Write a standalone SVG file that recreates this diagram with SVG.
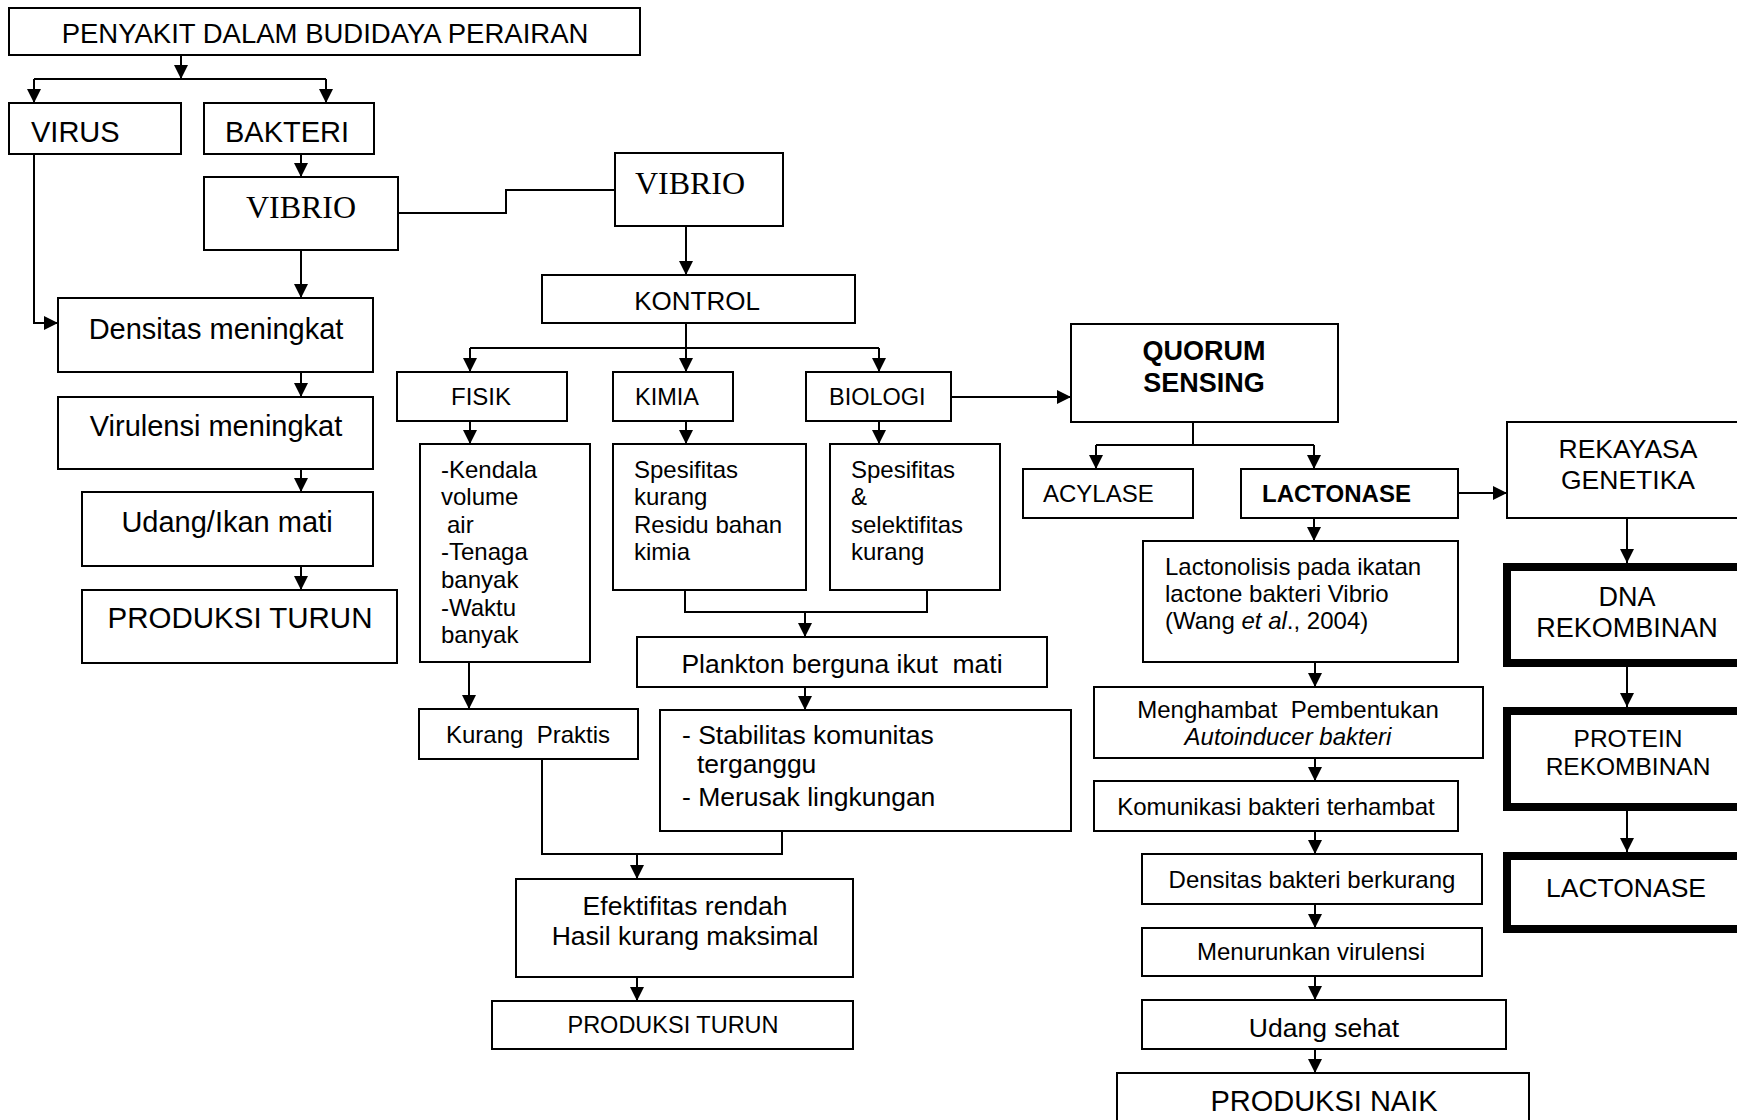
<svg xmlns="http://www.w3.org/2000/svg" width="1737" height="1120" viewBox="0 0 1737 1120">
<style>
.box{fill:#fff;stroke:#000;stroke-width:2}
.thick{fill:#fff;stroke:#000;stroke-width:8}
.conn{fill:none;stroke:#000;stroke-width:2}
.arr{fill:none;stroke:#000;stroke-width:2;marker-end:url(#ah)}
text{font-family:"Liberation Sans",Arial,sans-serif;fill:#000}
.serif{font-family:"Liberation Serif","Times New Roman",serif}
.m{text-anchor:middle}
.b{font-weight:bold}
.i{font-style:italic}
</style>
<defs>
<marker id="ah" markerUnits="userSpaceOnUse" markerWidth="14" markerHeight="14" refX="14" refY="7" orient="auto">
<path d="M0,0 L14,7 L0,14 z" fill="#000"/>
</marker>
</defs>
<rect width="1737" height="1120" fill="#fff"/>

<g id="connectors">
<path class="arr" d="M181,55 V79"/>
<path class="conn" d="M34,79 H326"/>
<path class="arr" d="M34,79 V103"/>
<path class="arr" d="M326,79 V103"/>
<path class="arr" d="M301,154 V177"/>
<path class="arr" d="M301,250 V298"/>
<path class="arr" d="M34,154 V323 H58"/>
<path class="arr" d="M301,372 V397"/>
<path class="arr" d="M301,469 V492"/>
<path class="arr" d="M301,566 V590"/>
<path class="conn" d="M398,213 H506 V190 H615"/>
<path class="arr" d="M686,226 V275"/>
<path class="conn" d="M686,323 V348"/>
<path class="conn" d="M470,348 H879"/>
<path class="arr" d="M470,348 V372"/>
<path class="arr" d="M686,348 V372"/>
<path class="arr" d="M879,348 V372"/>
<path class="arr" d="M470,421 V444"/>
<path class="arr" d="M686,421 V444"/>
<path class="arr" d="M879,421 V444"/>
<path class="arr" d="M951,397 H1071"/>
<path class="conn" d="M685,590 V612 H927 V590"/>
<path class="arr" d="M805,612 V637"/>
<path class="arr" d="M469,662 V709"/>
<path class="arr" d="M805,687 V710"/>
<path class="conn" d="M542,759 V854 H782 V831"/>
<path class="arr" d="M637,854 V879"/>
<path class="arr" d="M637,977 V1001"/>
<path class="conn" d="M1193,422 V445"/>
<path class="conn" d="M1096,445 H1314"/>
<path class="arr" d="M1096,445 V469"/>
<path class="arr" d="M1314,445 V469"/>
<path class="arr" d="M1458,493 H1507"/>
<path class="arr" d="M1314,518 V541"/>
<path class="arr" d="M1315,662 V687"/>
<path class="arr" d="M1315,758 V781"/>
<path class="arr" d="M1315,831 V854"/>
<path class="arr" d="M1315,904 V928"/>
<path class="arr" d="M1315,976 V1000"/>
<path class="arr" d="M1315,1049 V1073"/>
<path class="arr" d="M1627,518 V563"/>
<path class="arr" d="M1627,667 V707"/>
<path class="arr" d="M1627,811 V852"/>
</g>

<g id="n-title"><rect class="box" x="9" y="8" width="631" height="47"/><text class="m" x="325" y="43" font-size="27.5">PENYAKIT DALAM BUDIDAYA PERAIRAN</text></g>
<g id="n-virus"><rect class="box" x="9" y="103" width="172" height="51"/><text x="31" y="142" font-size="29">VIRUS</text></g>
<g id="n-bakteri"><rect class="box" x="204" y="103" width="170" height="51"/><text x="225" y="142" font-size="29">BAKTERI</text></g>
<g id="n-vibrio1"><rect class="box" x="204" y="177" width="194" height="73"/><text class="m serif" x="301" y="218" font-size="32">VIBRIO</text></g>
<g id="n-densitas"><rect class="box" x="58" y="298" width="315" height="74"/><text class="m" x="216" y="339" font-size="29">Densitas meningkat</text></g>
<g id="n-virulensi"><rect class="box" x="58" y="397" width="315" height="72"/><text class="m" x="216" y="436" font-size="29">Virulensi meningkat</text></g>
<g id="n-udang"><rect class="box" x="82" y="492" width="291" height="74"/><text class="m" x="227" y="532" font-size="29">Udang/Ikan mati</text></g>
<g id="n-produksi1"><rect class="box" x="82" y="590" width="315" height="73"/><text class="m" x="240" y="628" font-size="29.5">PRODUKSI TURUN</text></g>

<g id="n-vibrio2"><rect class="box" x="615" y="153" width="168" height="73"/><text class="m serif" x="690" y="194" font-size="32">VIBRIO</text></g>
<g id="n-kontrol"><rect class="box" x="542" y="275" width="313" height="48"/><text class="m" x="697" y="310" font-size="26">KONTROL</text></g>
<g id="n-fisik"><rect class="box" x="397" y="372" width="170" height="49"/><text class="m" x="481" y="405" font-size="24">FISIK</text></g>
<g id="n-kimia"><rect class="box" x="613" y="372" width="120" height="49"/><text x="635" y="405" font-size="23.5">KIMIA</text></g>
<g id="n-biologi"><rect class="box" x="806" y="372" width="145" height="49"/><text x="829" y="405" font-size="23.5">BIOLOGI</text></g>

<g id="n-kendala"><rect class="box" x="420" y="444" width="170" height="218"/>
<text font-size="24"><tspan x="441" y="478">-Kendala</tspan><tspan x="441" y="505">volume</tspan><tspan x="447" y="533">air</tspan><tspan x="441" y="560">-Tenaga</tspan><tspan x="441" y="588">banyak</tspan><tspan x="441" y="616">-Waktu</tspan><tspan x="441" y="643">banyak</tspan></text></g>
<g id="n-spes1"><rect class="box" x="613" y="444" width="193" height="146"/>
<text font-size="24"><tspan x="634" y="478">Spesifitas</tspan><tspan x="634" y="505">kurang</tspan><tspan x="634" y="533">Residu bahan</tspan><tspan x="634" y="560">kimia</tspan></text></g>
<g id="n-spes2"><rect class="box" x="830" y="444" width="170" height="146"/>
<text font-size="24"><tspan x="851" y="478">Spesifitas</tspan><tspan x="851" y="505">&amp;</tspan><tspan x="851" y="533">selektifitas</tspan><tspan x="851" y="560">kurang</tspan></text></g>
<g id="n-plankton"><rect class="box" x="637" y="637" width="410" height="50"/><text class="m" x="842" y="673" font-size="26.5" xml:space="preserve">Plankton berguna ikut  mati</text></g>
<g id="n-kurang"><rect class="box" x="419" y="709" width="219" height="50"/><text x="446" y="743" font-size="24" xml:space="preserve">Kurang  Praktis</text></g>
<g id="n-stabilitas"><rect class="box" x="660" y="710" width="411" height="121"/>
<text font-size="26.5"><tspan x="682" y="744">- Stabilitas komunitas</tspan><tspan x="697" y="773">terganggu</tspan><tspan x="682" y="806">- Merusak lingkungan</tspan></text></g>
<g id="n-efektifitas"><rect class="box" x="516" y="879" width="337" height="98"/>
<text class="m" font-size="26.5"><tspan x="685" y="915">Efektifitas rendah</tspan><tspan x="685" y="945">Hasil kurang maksimal</tspan></text></g>
<g id="n-produksi2"><rect class="box" x="492" y="1001" width="361" height="48"/><text class="m" x="673" y="1033" font-size="23.5">PRODUKSI TURUN</text></g>

<g id="n-quorum"><rect class="box" x="1071" y="324" width="267" height="98"/>
<text class="m b" font-size="27"><tspan x="1204" y="360">QUORUM</tspan><tspan x="1204" y="392">SENSING</tspan></text></g>
<g id="n-acylase"><rect class="box" x="1023" y="469" width="170" height="49"/><text x="1043" y="502" font-size="24">ACYLASE</text></g>
<g id="n-lactonase1"><rect class="box" x="1241" y="469" width="217" height="49"/><text class="b" x="1262" y="502" font-size="24">LACTONASE</text></g>
<g id="n-lactonolisis"><rect class="box" x="1143" y="541" width="315" height="121"/>
<text font-size="24"><tspan x="1165" y="575">Lactonolisis pada ikatan</tspan><tspan x="1165" y="602">lactone bakteri Vibrio</tspan><tspan x="1165" y="629">(Wang <tspan class="i">et al</tspan>., 2004)</tspan></text></g>
<g id="n-menghambat"><rect class="box" x="1094" y="687" width="389" height="71"/>
<text class="m" font-size="24"><tspan x="1288" y="718" xml:space="preserve">Menghambat  Pembentukan</tspan><tspan class="i" x="1288" y="745">Autoinducer bakteri</tspan></text></g>
<g id="n-komunikasi"><rect class="box" x="1094" y="781" width="364" height="50"/><text class="m" x="1276" y="815" font-size="24">Komunikasi bakteri terhambat</text></g>
<g id="n-densitas2"><rect class="box" x="1142" y="854" width="340" height="50"/><text class="m" x="1312" y="888" font-size="24">Densitas bakteri berkurang</text></g>
<g id="n-menurunkan"><rect class="box" x="1142" y="928" width="340" height="48"/><text class="m" x="1311" y="960" font-size="24">Menurunkan virulensi</text></g>
<g id="n-udangsehat"><rect class="box" x="1142" y="1000" width="364" height="49"/><text class="m" x="1324" y="1037" font-size="26.5">Udang sehat</text></g>
<g id="n-produksinaik"><rect class="box" x="1117" y="1073" width="412" height="60"/><text class="m" x="1324" y="1111" font-size="29">PRODUKSI NAIK</text></g>

<g id="n-rekayasa"><rect class="box" x="1507" y="422" width="260" height="96"/>
<text class="m" font-size="26.5"><tspan x="1628" y="458">REKAYASA</tspan><tspan x="1628" y="489">GENETIKA</tspan></text></g>
<g id="n-dna"><rect class="thick" x="1507" y="567" width="260" height="96"/>
<text class="m" font-size="27"><tspan x="1627" y="606">DNA</tspan><tspan x="1627" y="637">REKOMBINAN</tspan></text></g>
<g id="n-protein"><rect class="thick" x="1507" y="711" width="260" height="96"/>
<text class="m" font-size="24.5"><tspan x="1628" y="747">PROTEIN</tspan><tspan x="1628" y="775">REKOMBINAN</tspan></text></g>
<g id="n-lactonase2"><rect class="thick" x="1507" y="856" width="260" height="73"/><text class="m" x="1626" y="897" font-size="26.5">LACTONASE</text></g>
</svg>
